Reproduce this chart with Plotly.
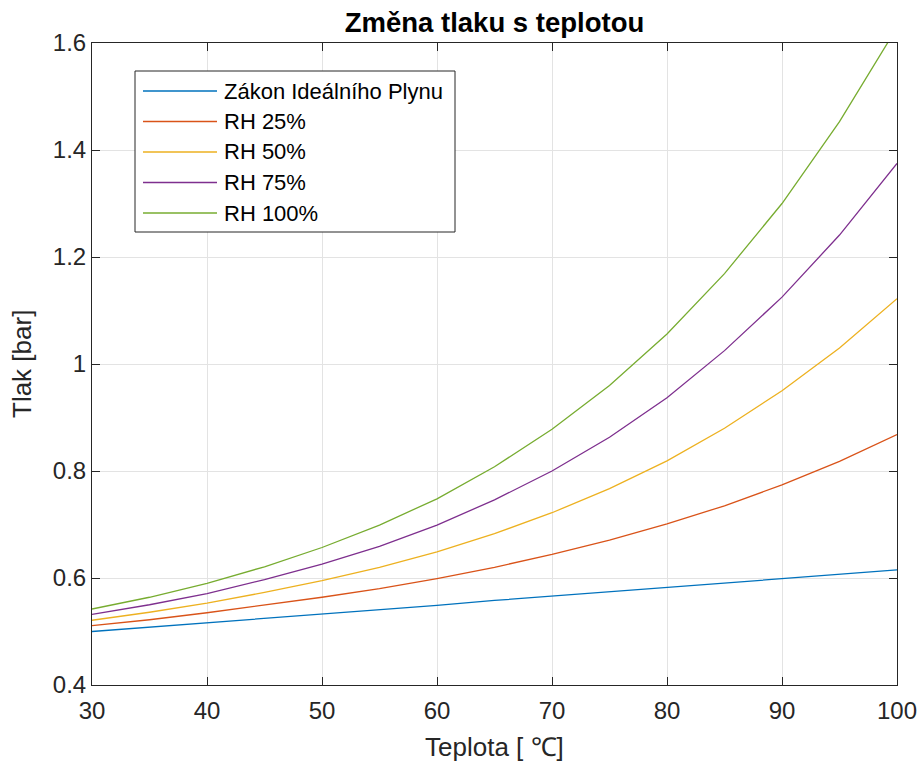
import plotly.graph_objects as go

teplota = [30, 35, 40, 45, 50, 55, 60, 65, 70, 75, 80, 85, 90, 95, 100]
idealni = [0.500, 0.508, 0.516, 0.525, 0.533, 0.541, 0.549, 0.558, 0.566, 0.574, 0.582, 0.591, 0.599, 0.607, 0.615]
rh25 = [0.511, 0.522, 0.535, 0.549, 0.564, 0.580, 0.599, 0.620, 0.644, 0.671, 0.701, 0.735, 0.774, 0.818, 0.868]
rh50 = [0.521, 0.536, 0.553, 0.573, 0.595, 0.620, 0.649, 0.683, 0.722, 0.767, 0.819, 0.880, 0.950, 1.030, 1.122]
rh75 = [0.532, 0.550, 0.571, 0.597, 0.626, 0.659, 0.699, 0.746, 0.800, 0.863, 0.937, 1.025, 1.125, 1.241, 1.375]
rh100 = [0.542, 0.564, 0.590, 0.621, 0.657, 0.699, 0.748, 0.808, 0.878, 0.960, 1.056, 1.169, 1.300, 1.453, 1.629]

names = ["Zákon Ideálního Plynu", "RH 25%", "RH 50%", "RH 75%", "RH 100%"]
series = [idealni, rh25, rh50, rh75, rh100]
colors = ["#0072BD", "#D95319", "#EDB120", "#7E2F8E", "#77AC30"]

x_ticks = [30, 40, 50, 60, 70, 80, 90, 100]
y_ticks = [0.4, 0.6, 0.8, 1.0, 1.2, 1.4, 1.6]
y_tick_labels = ["0.4", "0.6", "0.8", "1", "1.2", "1.4", "1.6"]

FONT = "Liberation Sans, Arial, Helvetica, sans-serif"
AX = "#262626"

fig = go.Figure()
for name, vals, col in zip(names, series, colors):
    fig.add_trace(go.Scatter(x=teplota, y=vals, mode="lines", name=name,
                             line=dict(color=col, width=1.3), showlegend=False))

# custom MATLAB-style legend
L = dict(l=92, r=23, t=43, b=77)
W, H = 920, 762
pw = W - L["l"] - L["r"]
ph = H - L["t"] - L["b"]
def px(x):
    return (x - L["l"]) / pw
def py(y):
    return (H - L["b"] - y) / ph

shapes = [dict(type="rect", xref="paper", yref="paper",
               x0=px(135), x1=px(455), y0=py(232), y1=py(71),
               line=dict(color=AX, width=1), fillcolor="white", layer="above")]
annotations = []
row0, step = 91, 30.5
for i, (name, col) in enumerate(zip(names, colors)):
    yy = py(row0 + i * step)
    shapes.append(dict(type="line", xref="paper", yref="paper",
                       x0=px(143), x1=px(217), y0=yy, y1=yy,
                       line=dict(color=col, width=1.3), layer="above"))
    annotations.append(dict(xref="paper", yref="paper", x=px(222), y=yy,
                            xanchor="left", yanchor="middle", showarrow=False,
                            text=name, font=dict(family=FONT, size=22, color="black")))

# axis titles
annotations.append(dict(xref="paper", yref="paper", x=0.5, y=py(747),
                        xanchor="center", yanchor="middle", showarrow=False,
                        text="Teplota [ ℃]", font=dict(family=FONT, size=26, color=AX)))
annotations.append(dict(xref="paper", yref="paper", x=px(22), y=0.5,
                        xanchor="center", yanchor="middle", showarrow=False, textangle=-90,
                        text="Tlak [bar]", font=dict(family=FONT, size=26, color=AX)))

fig.update_layout(
    width=W, height=H,
    margin=L,
    paper_bgcolor="white", plot_bgcolor="white",
    font=dict(family=FONT, color=AX),
    title=dict(text="<b>Změna tlaku s teplotou</b>", x=(92 + 897) / 2 / W, xanchor="center",
               y=1 - 22 / H, yanchor="middle", font=dict(family=FONT, size=27.5, color="black")),
    shapes=shapes,
    annotations=annotations,
)
fig.update_xaxes(range=[30, 100], tickvals=x_ticks, ticktext=[str(v) for v in x_ticks],
                 showgrid=True, gridcolor="#e3e3e3", gridwidth=1, automargin=False,
                 showline=True, linecolor=AX, linewidth=1, mirror="ticks",
                 ticks="inside", ticklen=8, tickcolor=AX, zeroline=False, ticklabelstandoff=4,
                 tickfont=dict(family=FONT, size=24, color=AX))
fig.update_yaxes(range=[0.4, 1.6], tickvals=y_ticks, ticktext=y_tick_labels,
                 showgrid=True, gridcolor="#e3e3e3", gridwidth=1, automargin=False,
                 showline=True, linecolor=AX, linewidth=1, mirror="ticks",
                 ticks="inside", ticklen=8, tickcolor=AX, zeroline=False,
                 tickfont=dict(family=FONT, size=24, color=AX))

fig.write_html("out.html", config={"displayModeBar": False},
               post_script="document.body.style.margin='0';document.body.style.overflow='hidden';")
